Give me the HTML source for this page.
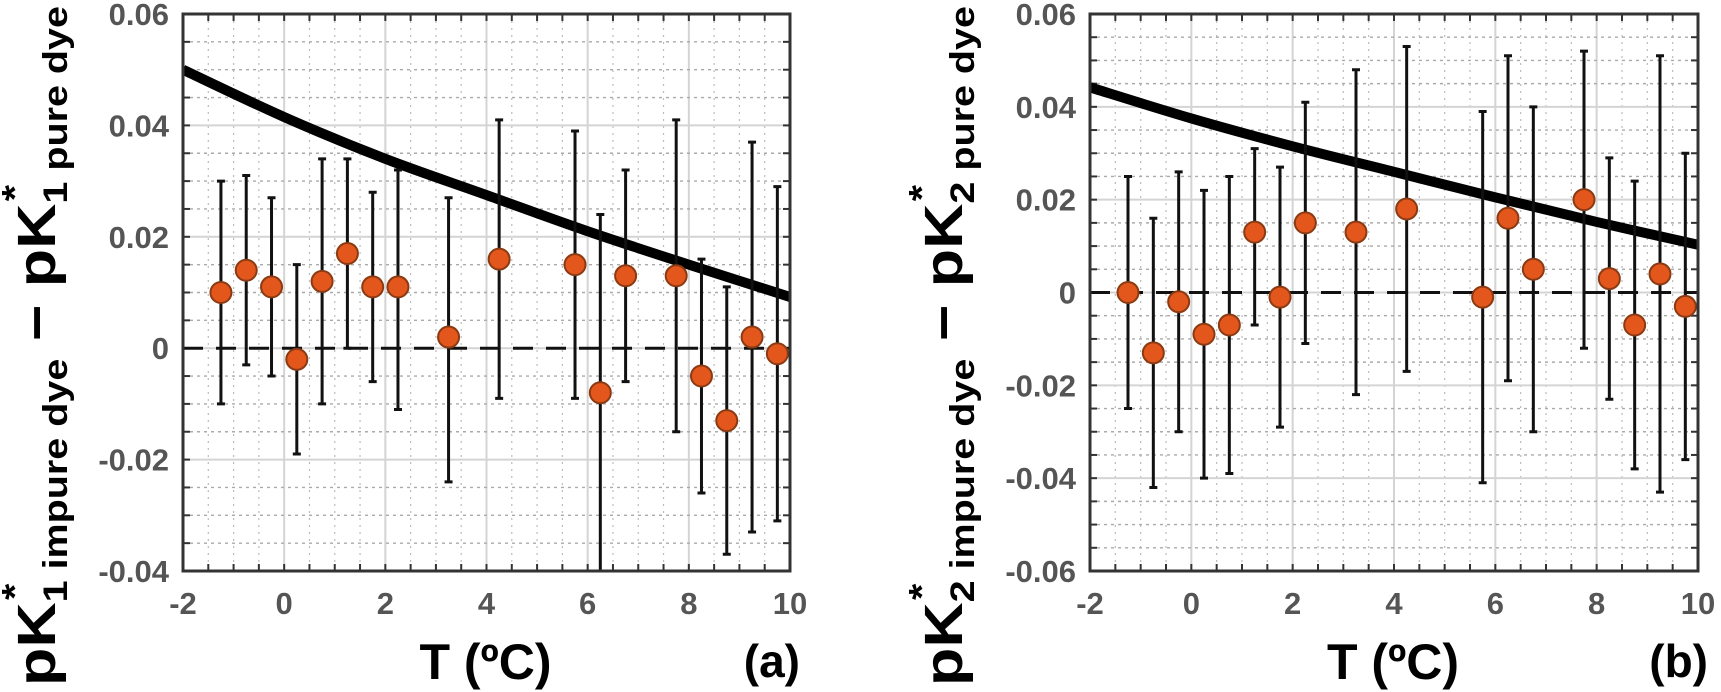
<!DOCTYPE html>
<html><head><meta charset="utf-8">
<style>
html,body{margin:0;padding:0;background:#fff;}
svg{display:block;}
</style></head>
<body>
<svg id="fig" width="1721" height="692" viewBox="0 0 1721 692" xmlns="http://www.w3.org/2000/svg"></svg>
<script>
// ---- data: panel (a) ----
const tempsA = [-1.25,-0.75,-0.25,0.25,0.75,1.25,1.75,2.25,3.25,4.25,5.75,6.25,6.75,7.75,8.25,8.75,9.25,9.75];
const valsA  = [0.010,0.014,0.011,-0.002,0.012,0.017,0.011,0.011,0.002,0.016,0.015,-0.008,0.013,0.013,-0.005,-0.013,0.002,-0.001];
const hiA    = [0.030,0.031,0.027,0.015,0.034,0.034,0.028,0.032,0.027,0.041,0.039,0.024,0.032,0.041,0.016,0.011,0.037,0.029];
const loA    = [-0.010,-0.003,-0.005,-0.019,-0.010,0.000,-0.006,-0.011,-0.024,-0.009,-0.009,-0.045,-0.006,-0.015,-0.026,-0.037,-0.033,-0.031];
const curveTA = [-2,0,2,4,6,8,10];
const curveVA = [0.050,0.0415,0.034,0.0275,0.021,0.015,0.0092];
const yTicksA = [0.06,0.04,0.02,0,-0.02,-0.04];
const yTickLabelsA = ["0.06","0.04","0.02","0","-0.02","-0.04"];
// ---- data: panel (b) ----
const tempsB = [-1.25,-0.75,-0.25,0.25,0.75,1.25,1.75,2.25,3.25,4.25,5.75,6.25,6.75,7.75,8.25,8.75,9.25,9.75];
const valsB  = [0.000,-0.013,-0.002,-0.009,-0.007,0.013,-0.001,0.015,0.013,0.018,-0.001,0.016,0.005,0.020,0.003,-0.007,0.004,-0.003];
const hiB    = [0.025,0.016,0.026,0.022,0.025,0.031,0.027,0.041,0.048,0.053,0.039,0.051,0.040,0.052,0.029,0.024,0.051,0.030];
const loB    = [-0.025,-0.042,-0.030,-0.040,-0.039,-0.007,-0.029,-0.011,-0.022,-0.017,-0.041,-0.019,-0.030,-0.012,-0.023,-0.038,-0.043,-0.036];
const curveTB = [-2,0,2,4,6,8,10];
const curveVB = [0.0442,0.0375,0.0315,0.026,0.0205,0.0152,0.0103];
const yTicksB = [0.06,0.04,0.02,0,-0.02,-0.04,-0.06];
const yTickLabelsB = ["0.06","0.04","0.02","0","-0.02","-0.04","-0.06"];
const xTicks = [-2,0,2,4,6,8,10];
const xTickLabels = ["-2","0","2","4","6","8","10"];

const NS = "http://www.w3.org/2000/svg";
const svg = document.getElementById('fig');
function mk(tag, attrs, parent){
  const e = document.createElementNS(NS, tag);
  for (const k in attrs) e.setAttribute(k, attrs[k]);
  (parent||svg).appendChild(e);
  return e;
}

function panel(cfg){
  const {L,R,T,B,ymin,ymax,minorY,temps,vals,hi,lo,cT,cV,yTicks,yLabels,id,letter,sub} = cfg;
  const g = mk('g',{});
  
  
  const sx = t => L + (t - (-2)) / 12 * (R - L);
  const sy = v => B - (v - ymin) / (ymax - ymin) * (B - T);
  const clipId = 'clip-'+id;
  const cp = mk('clipPath',{id:clipId}, g);
  mk('rect',{x:L,y:T,width:R-L,height:B-T}, cp);
  const grid = mk('g',{}, g);
  
  
  for (let t=-2; t<=10.001; t+=0.5){
    const x = sx(t);
    const major = Math.abs(t/2 - Math.round(t/2))<1e-6;
    mk('line',{x1:x,x2:x,y1:T,y2:B,stroke:major?'#d4d4d4':'#bbb','stroke-width':major?2:1.2,'stroke-dasharray':major?'':'2 5'}, grid);
    mk('line',{x1:x,x2:x,y1:B,y2:B-7,stroke:'#333','stroke-width':2}, grid);
    mk('line',{x1:x,x2:x,y1:T,y2:T+7,stroke:'#333','stroke-width':2}, grid);
  }
  const n = Math.round((ymax-ymin)/minorY);
  for (let i=0;i<=n;i++){
    const v = ymin + i*minorY, y = sy(v);
    const major = i%4===0;
    mk('line',{x1:L,x2:R,y1:y,y2:y,stroke:major?'#d4d4d4':'#aaa','stroke-width':major?2:1.4,'stroke-dasharray':major?'':'3 4'}, grid);
    mk('line',{x1:L,x2:L+7,y1:y,y2:y,stroke:'#333','stroke-width':2}, grid);
    mk('line',{x1:R,x2:R-7,y1:y,y2:y,stroke:'#333','stroke-width':2}, grid);
  }
  const z = mk('line',{x1:L,x2:R,y1:sy(0),y2:sy(0),stroke:'#111','stroke-width':3,'stroke-dasharray':'20 13'}, g);
  
  
  const pts = cT.map((t,i)=>[sx(t),sy(cV[i])]);
  let d = 'M'+pts[0][0]+','+pts[0][1];
  for (let i=0;i<pts.length-1;i++){
    const p0=pts[Math.max(0,i-1)],p1=pts[i],p2=pts[i+1],p3=pts[Math.min(pts.length-1,i+2)];
    const c1=[p1[0]+(p2[0]-p0[0])/6,p1[1]+(p2[1]-p0[1])/6];
    const c2=[p2[0]-(p3[0]-p1[0])/6,p2[1]-(p3[1]-p1[1])/6];
    d+=` C${c1[0]},${c1[1]} ${c2[0]},${c2[1]} ${p2[0]},${p2[1]}`;
  }
  const cv = mk('path',{d:d,fill:'none',stroke:'#000','stroke-width':10,'clip-path':`url(#${clipId})`}, g);
  
  
  const eg = mk('g',{'clip-path':`url(#${clipId})`}, g);
  temps.forEach((t,i)=>{
    const x = sx(t);
    const bar = mk('path',{d:`M${x},${sy(hi[i])}V${sy(lo[i])}M${x-4},${sy(hi[i])}H${x+4}M${x-4},${sy(lo[i])}H${x+4}`,stroke:'#111','stroke-width':3,fill:'none'}, eg);
    
    
  });
  temps.forEach((t,i)=>{
    const c = mk('circle',{cx:sx(t),cy:sy(vals[i]),r:10.5,fill:'#e3561c',stroke:'#8a3b14','stroke-width':2}, g);
    
    
  });
  const fr = mk('rect',{x:L,y:T,width:R-L,height:B-T,fill:'none',stroke:'#333','stroke-width':3}, g);
  
  
  yTicks.forEach((v,i)=>{
    const tx = mk('text',{x:L-14,y:sy(v)+11,'text-anchor':'end','font-family':'Liberation Sans, sans-serif','font-weight':'bold','font-size':31,fill:'#555'}, g);
    tx.textContent = yLabels[i];
    
    
  });
  xTicks.forEach((t,i)=>{
    const tx = mk('text',{x:sx(t),y:B+43,'text-anchor':'middle','font-family':'Liberation Sans, sans-serif','font-weight':'bold','font-size':31,fill:'#555'}, g);
    tx.textContent = xTickLabels[i];
    
    
  });
  const xt = mk('text',{x:(L+R)/2-1,y:679,'text-anchor':'middle','font-family':'Liberation Sans, sans-serif','font-weight':'bold','font-size':50,fill:'#000'}, g);
  xt.textContent = 'T (ºC)';
  
  
  const lt = mk('text',{x:R+10,y:677,'text-anchor':'end','font-family':'Liberation Sans, sans-serif','font-weight':'bold','font-size':46,fill:'#000'}, g);
  lt.textContent = letter;
  
  
  const yx = L - 128;
  const yt = mk('text',{transform:`translate(${yx},346) rotate(-90)`,'text-anchor':'middle','font-family':'Liberation Sans, sans-serif','font-weight':'bold','font-size':54,fill:'#000',textLength:680,lengthAdjust:'spacingAndGlyphs'}, g);
  yt.innerHTML = `pK<tspan font-size="36" dy="-28" dx="2">*</tspan><tspan font-size="34" dy="40" dx="-16">${sub} impure dye</tspan><tspan dy="-12"> − pK</tspan><tspan font-size="36" dy="-28" dx="2">*</tspan><tspan font-size="34" dy="40" dx="-16">${sub} pure dye</tspan>`;
  
  
}

panel({id:'a',letter:'(a)',sub:'1',L:183,R:790,T:14,B:571,ymin:-0.04,ymax:0.06,minorY:0.005,
  temps:tempsA,vals:valsA,hi:hiA,lo:loA,cT:curveTA,cV:curveVA,yTicks:yTicksA,yLabels:yTickLabelsA});
panel({id:'b',letter:'(b)',sub:'2',L:1090,R:1698,T:14,B:571,ymin:-0.06,ymax:0.06,minorY:0.005,
  temps:tempsB,vals:valsB,hi:hiB,lo:loB,cT:curveTB,cV:curveVB,yTicks:yTicksB,yLabels:yTickLabelsB});
</script>
</body></html>
